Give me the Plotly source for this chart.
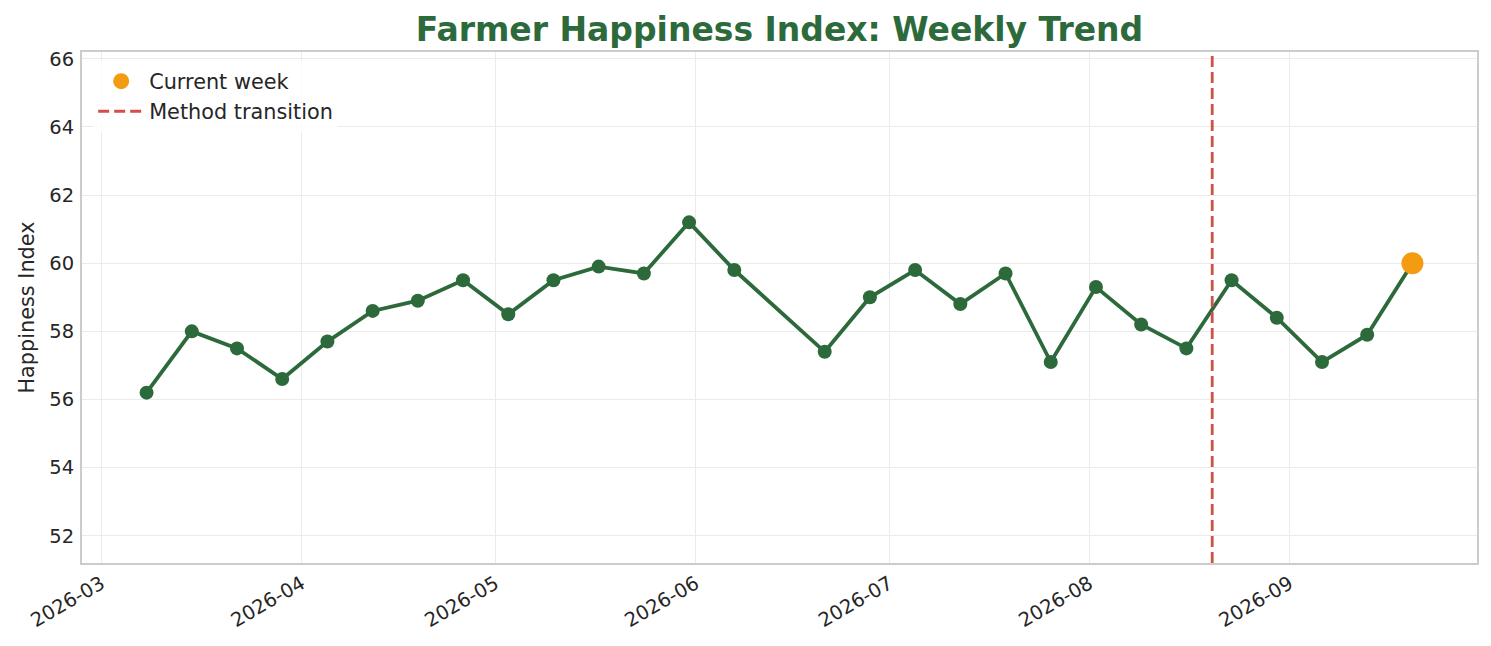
import plotly.graph_objects as go

dates = ["2026-03-08", "2026-03-15", "2026-03-22", "2026-03-29", "2026-04-05", "2026-04-12",
         "2026-04-19", "2026-04-26", "2026-05-03", "2026-05-10", "2026-05-17", "2026-05-24",
         "2026-05-31", "2026-06-07", "2026-06-21", "2026-06-28", "2026-07-05", "2026-07-12",
         "2026-07-19", "2026-07-26", "2026-08-02", "2026-08-09", "2026-08-16", "2026-08-23",
         "2026-08-30", "2026-09-06", "2026-09-13", "2026-09-20"]
happiness = [56.2, 58.0, 57.5, 56.6, 57.7, 58.6, 58.9, 59.5, 58.5, 59.5, 59.9, 59.7,
             61.2, 59.8, 57.4, 59.0, 59.8, 58.8, 59.7, 57.1, 59.3, 58.2, 57.5, 59.5,
             58.4, 57.1, 57.9, 60.0]
transition_date = "2026-08-20"
y_range = [51.2, 66.2]
x_range = ["2026-02-26", "2026-09-30"]
y_ticks = [52, 54, 56, 58, 60, 62, 64, 66]

GREEN = "#2d6a3b"
ORANGE = "#f39c12"
RED = "#d0504c"
FONT = "DejaVu Sans"

fig = go.Figure()
fig.add_trace(go.Scatter(
    x=dates, y=happiness, mode="lines+markers",
    line=dict(color=GREEN, width=3.8),
    marker=dict(color=GREEN, size=14),
    showlegend=False, hoverinfo="x+y"))
fig.add_trace(go.Scatter(
    x=[transition_date, transition_date], y=y_range, mode="lines",
    line=dict(color=RED, width=2.8, dash="11px,5px"),
    name="Method transition"))
fig.add_trace(go.Scatter(
    x=[dates[-1]], y=[happiness[-1]], mode="markers",
    marker=dict(color=ORANGE, size=22),
    name="Current week"))

# page body has an 8px default margin, so figure is 1483x638 placed at (8, 8)
fig.update_layout(
    width=1483, height=638,
    margin=dict(l=74, r=14, t=44, b=83),
    paper_bgcolor="white", plot_bgcolor="white",
    font=dict(family=FONT, size=19.5, color="#262626"),
    title=dict(text="<b>Farmer Happiness Index: Weekly Trend</b>",
               x=0.5, xref="paper", xanchor="center", y=1 - 21 / 638, yanchor="middle",
               font=dict(family=FONT, size=33, color=GREEN)),
    legend=dict(x=0.008, y=0.982, xanchor="left", yanchor="top",
                bgcolor="rgba(255,255,255,0.8)", borderwidth=0,
                font=dict(size=20.8, color="#262626"), traceorder="reversed",
                itemwidth=46, tracegroupgap=0),
    showlegend=True,
)
fig.update_xaxes(
    range=x_range, type="date", tickformat="%Y-%m", dtick="M1",
    tick0="2026-03-01", tickangle=-30, automargin=False,
    showgrid=True, gridcolor="#ebebeb", gridwidth=1.2,
    showline=True, linecolor="#cccccc", linewidth=1.8, mirror=True,
    ticks="", tickfont=dict(size=19.5, color="#262626"), zeroline=False)
fig.update_yaxes(
    range=y_range, tickvals=y_ticks, automargin=False, ticklabelstandoff=2,
    title=dict(text="Happiness Index", font=dict(size=20.8, color="#262626"), standoff=9),
    showgrid=True, gridcolor="#ebebeb", gridwidth=1.2,
    showline=True, linecolor="#cccccc", linewidth=1.8, mirror=True,
    ticks="", tickfont=dict(size=19.5, color="#262626"), zeroline=False)

fig.write_html("out.html")
